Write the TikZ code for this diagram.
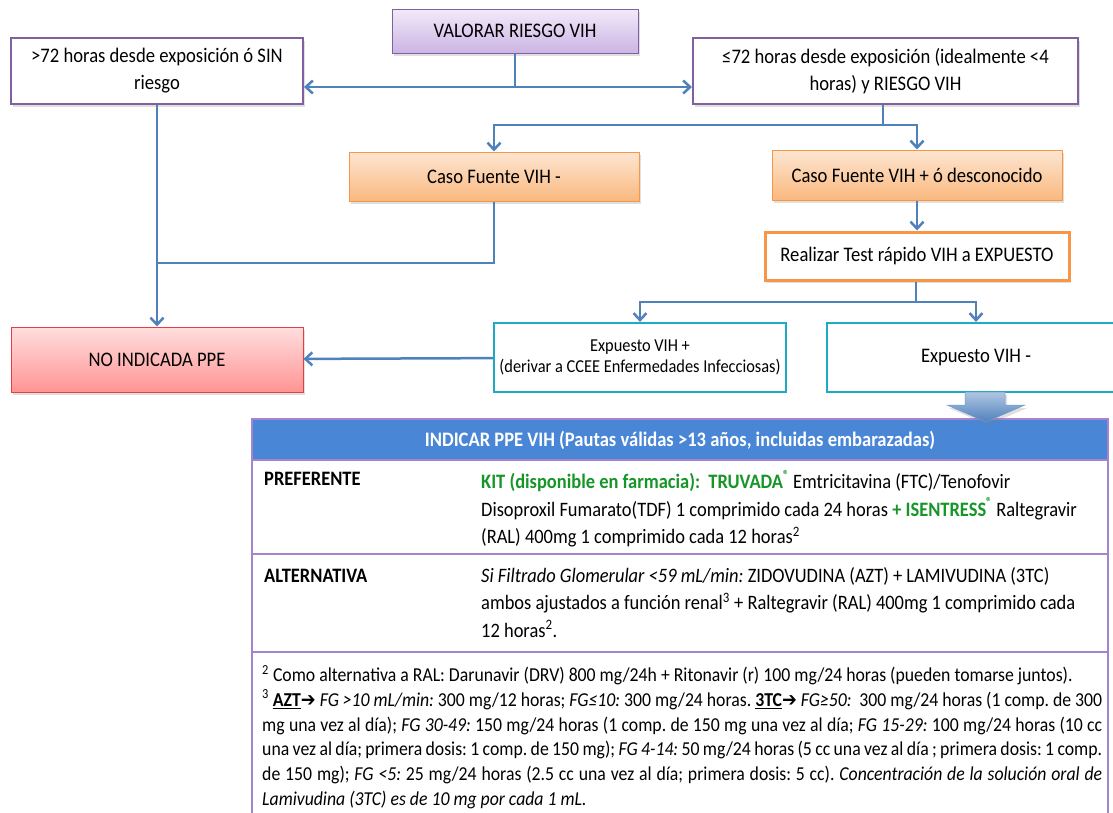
\documentclass[tikz,border=0pt]{standalone}
\usepackage{fontspec}
\setmainfont{Carlito}[FakeStretch=0.9]
\newfontfamily\arrowfont{DejaVu Sans}[FakeStretch=0.9]
\usepackage{xcolor}
\usetikzlibrary{arrows.meta,positioning,shadows}
\definecolor{flowblue}{RGB}{79,129,189}
\definecolor{lilac}{RGB}{128,96,162}
\definecolor{lilactop}{RGB}{242,234,249}
\definecolor{lilacbot}{RGB}{204,180,228}
\definecolor{peach}{RGB}{247,150,70}
\definecolor{peachtop}{RGB}{253,230,210}
\definecolor{peachbot}{RGB}{250,184,126}
\definecolor{alarm}{RGB}{226,64,64}
\definecolor{alarmtop}{RGB}{255,222,222}
\definecolor{alarmbot}{RGB}{255,148,148}
\definecolor{teal}{RGB}{30,170,196}
\definecolor{hdrblue}{RGB}{74,134,214}
\definecolor{tabline}{RGB}{164,132,204}
\definecolor{kitgreen}{RGB}{22,150,40}
\frenchspacing
\newcommand{\regmark}{\raisebox{0.45em}{\fontsize{13}{13}\selectfont ®}}

\begin{document}
\begin{tikzpicture}[
  x=1pt, y=-1pt,
  every node/.style={font=\fontsize{20.7}{27}\selectfont, align=center},
  shade/.style={drop shadow={opacity=0.25, shadow xshift=2pt, shadow yshift=-3pt}},
  lilacbox/.style={draw=lilac, line width=1pt, shade, top color=lilactop, bottom color=lilacbot},
  framebox/.style={draw=lilac, line width=2pt, fill=white, shade},
  peachbox/.style={draw=peach, line width=1pt, shade, top color=peachtop, bottom color=peachbot},
  testbox/.style={draw=peach, line width=3pt, fill=white, shade},
  tealbox/.style={draw=teal, line width=2.2pt, fill=white},
  alarmbox/.style={draw=alarm, line width=1pt, shade, top color=alarmtop, bottom color=alarmbot},
  line/.style={draw=flowblue, line width=2.5pt},
  arrow/.style={line, -{Straight Barb[length=7pt, width=13pt, line width=2.5pt]}},
  cell/.style={inner sep=0pt, anchor=north west, align=left, font=\fontsize{20.5}{27.5}\selectfont}
]
\useasboundingbox (0,0) rectangle (1113,812);

% decision boxes
\node[lilacbox, minimum width=246pt, minimum height=44pt] (valorar) at (515,31) {VALORAR RIESGO VIH};
\node[framebox, minimum width=292pt, minimum height=66pt] (tarde) at (157,71)
  {>72 horas desde exposición ó SIN\\riesgo};
\node[framebox, minimum width=385pt, minimum height=66pt] (pronto) at (885.5,71)
  {≤72 horas desde exposición (idealmente <4\\horas) y RIESGO VIH};
\node[peachbox, minimum width=290pt, minimum height=49pt] (fuenteneg) at (494,176.5) {Caso Fuente VIH -};
\node[peachbox, minimum width=290pt, minimum height=50pt] (fuentepos) at (917,175) {Caso Fuente VIH + ó desconocido};
\node[testbox, minimum width=304pt, minimum height=48pt] (test) at (917,256) {Realizar Test rápido VIH a EXPUESTO};
\node[tealbox, minimum width=292pt, minimum height=69pt, font=\fontsize{18.2}{21}\selectfont] (expos) at (640,357.5)
  {Expuesto VIH +\\(derivar a CCEE Enfermedades Infecciosas)};
\node[tealbox, minimum width=298pt, minimum height=69pt] (exneg) at (976,357.5) {Expuesto VIH -};
\node[alarmbox, minimum width=292pt, minimum height=65pt] (noppe) at (157,359.5) {NO INDICADA PPE};

% connectors
\coordinate (split1) at (515,87);
\coordinate (split2) at (883,125);
\coordinate (split3) at (916,302);
\coordinate (join) at (157,263);
\draw[line] (valorar.south) -- (split1);
\draw[arrow] (split1) -- (split1 -| tarde.east);
\draw[arrow] (split1) -- (split1 -| pronto.west);
\draw[line] (split2 |- pronto.south) -- (split2);
\draw[arrow] (split2) -| (fuenteneg.north);
\draw[arrow] (split2) -| (fuentepos.north);
\draw[arrow] (fuentepos) -- (test);
\draw[line] (split3 |- test.south) -- (split3);
\draw[arrow] (split3) -| (expos.north);
\draw[arrow] (split3) -| (exneg.north);
\draw[arrow] (tarde) -- (noppe);
\draw[line] (fuenteneg.south) |- (join);
\draw[arrow] (expos) -- (noppe);

% treatment table
\draw[draw=tabline, line width=1.5pt, fill=white] (252,419) rectangle (1108,840);
\fill[hdrblue] (252,419) rectangle (1108,460);
\draw[draw=tabline, line width=1.5pt] (252,419) rectangle (1108,460);
\draw[draw=tabline, line width=1.5pt] (252,554) -- (1108,554);
\draw[draw=tabline, line width=1.5pt] (252,652) -- (1108,652);
\node[text=white, font=\bfseries\fontsize{20.6}{24}\selectfont] (titulo) at (680,440)
  {INDICAR PPE VIH (Pautas válidas >13 años, incluidas embarazadas)};
\node[cell, font=\bfseries\fontsize{20.5}{27.5}\selectfont] (pref) at (264,472) {PREFERENTE};
\node[cell] (preftxt) at (481,470)
  {{\color{kitgreen}\bfseries KIT (disponible en farmacia):\ \ TRUVADA\regmark} Emtricitavina (FTC)/Tenofovir\\
   Disoproxil Fumarato(TDF) 1 comprimido cada 24 horas {\color{kitgreen}\bfseries + ISENTRESS\regmark} Raltegravir\\
   (RAL) 400mg 1 comprimido cada 12 horas\textsuperscript{2}};
\node[cell, font=\bfseries\fontsize{20.5}{27.5}\selectfont] (alt) at (264,569) {ALTERNATIVA};
\node[cell] (alttxt) at (481,567)
  {\textit{Si Filtrado Glomerular <59 mL/min:} ZIDOVUDINA (AZT) + LAMIVUDINA (3TC)\\
   ambos ajustados a función renal\textsuperscript{3} + Raltegravir (RAL) 400mg 1 comprimido cada\\
   12 horas\textsuperscript{2}.};
\node[cell, align=justify, text width=840pt, font=\fontsize{19.7}{24.7}\selectfont] (notas) at (262,665)
  {\textsuperscript{2} Como alternativa a RAL: Darunavir (DRV) 800 mg/24h + Ritonavir (r) 100 mg/24 horas (pueden tomarse juntos).\\
   \textsuperscript{3} \textbf{\underline{AZT}}{\arrowfont ➔} \textit{FG >10 mL/min:} 300 mg/12 horas; \textit{FG≤10:} 300 mg/24 horas. \textbf{\underline{3TC}}{\arrowfont ➔} \textit{FG≥50:}\ \ 300 mg/24 horas (1 comp. de 300\linebreak
   mg una vez al día); \textit{FG 30-49:} 150 mg/24 horas (1 comp. de 150 mg una vez al día; \textit{FG 15-29:} 100 mg/24 horas (10 cc\linebreak
   una vez al día; primera dosis: 1 comp. de 150 mg); \textit{FG 4-14:} 50 mg/24 horas (5 cc una vez al día ; primera dosis: 1 comp.\linebreak
   de 150 mg); \textit{FG <5:} 25 mg/24 horas (2.5 cc una vez al día; primera dosis: 5 cc). \textit{Concentración de la solución oral de\linebreak
   Lamivudina (3TC) es de 10 mg por cada 1 mL.}};

% big arrow into the table
\shade[top color=flowblue!45, bottom color=flowblue, draw=flowblue!80, line width=0.5pt]
  (965,392) -- (1005,392) -- (1005,405) -- (1025,405) -- (986,422) -- (947,405) -- (965,405) -- cycle;
\end{tikzpicture}
\end{document}
